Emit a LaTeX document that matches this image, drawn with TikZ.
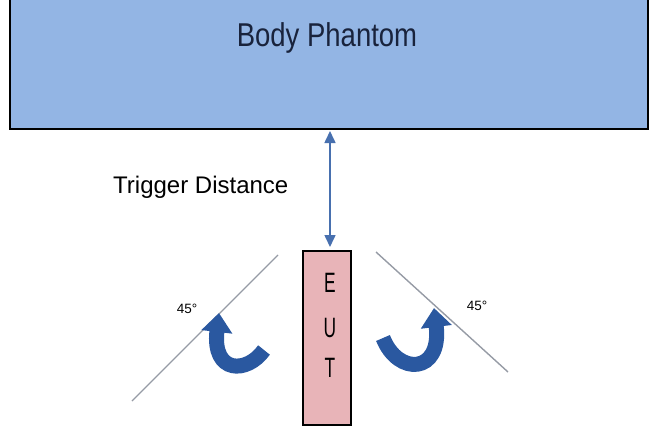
\documentclass[tikz,border=0pt]{standalone}
\usepackage{fontspec}
\setmainfont{Liberation Sans}
\usetikzlibrary{arrows.meta}
\definecolor{phantomfill}{RGB}{147,181,228}
\definecolor{eutfill}{RGB}{232,180,184}
\definecolor{dimblue}{RGB}{72,112,175}
\definecolor{rotblue}{RGB}{42,88,160}
\definecolor{axisgray}{RGB}{150,155,165}
\definecolor{navytext}{RGB}{25,35,60}
\tikzset{
  phantombox/.style={draw=black, line width=2pt, fill=phantomfill},
  eutbox/.style={draw=black, line width=1.5pt, fill=eutfill},
  eutletter/.style={font=\fontsize{28}{28}\selectfont, inner sep=0pt},
  dimarrow/.style={draw=dimblue, line width=1.6pt, {Triangle[length=12pt,width=11pt]}-{Triangle[length=12pt,width=11pt]}},
  axisline/.style={draw=axisgray, line width=1.4pt},
  rotarrow/.style={draw=rotblue, line width=15pt, -{Triangle[length=19pt,width=30pt]}},
  anglelabel/.style={font=\fontsize{13.5}{13.5}\selectfont, inner sep=0pt},
}
\begin{document}
\begin{tikzpicture}[x=1pt,y=-1pt]
\useasboundingbox (0,0) rectangle (651,428);
\clip (0,0) rectangle (651,428);
% body phantom
\draw[phantombox] (10,-5) rectangle (648,129);
\node[font=\fontsize{27.5}{27.5}\selectfont, text=navytext, inner sep=0pt] (phantom) at (327,38) {\scalebox{1}[1.2]{Body Phantom}};
\coordinate (ptop) at (330,131);
% EUT
\draw[eutbox] (303,251) rectangle (351,425);
\node[inner sep=0pt, minimum width=48pt, minimum height=174pt] (eut) at (327,338) {};
\node[eutletter] (E) at (330,283) {\scalebox{0.62}[1]{E}};
\node[eutletter] (U) at (330,328) {\scalebox{0.62}[1]{U}};
\node[eutletter] (T) at (330,368) {\scalebox{0.62}[1]{T}};
\coordinate (ebot) at (330,247);
% trigger distance
\draw[dimarrow] (ptop) -- (ebot);
\node[font=\fontsize{24}{24}\selectfont, inner sep=0pt, anchor=west] (trig) at (113,187) {Trigger Distance};
% axis lines
\coordinate (la) at (132,401);
\coordinate (lb) at (278,255);
\coordinate (ra) at (376,252);
\coordinate (rb) at (508,372);
\draw[axisline] (la) -- (lb);
\draw[axisline] (ra) -- (rb);
% rotation arrows
\draw[rotarrow] (264,350) .. controls (247,374) and (212,374) .. (219,313);
\draw[rotarrow] (383,338) .. controls (398,376) and (442,374) .. (434,308);
% labels
\node[anglelabel] (l45) at (187,309) {45°};
\node[anglelabel] (r45) at (477,306) {45°};
\end{tikzpicture}
\end{document}
